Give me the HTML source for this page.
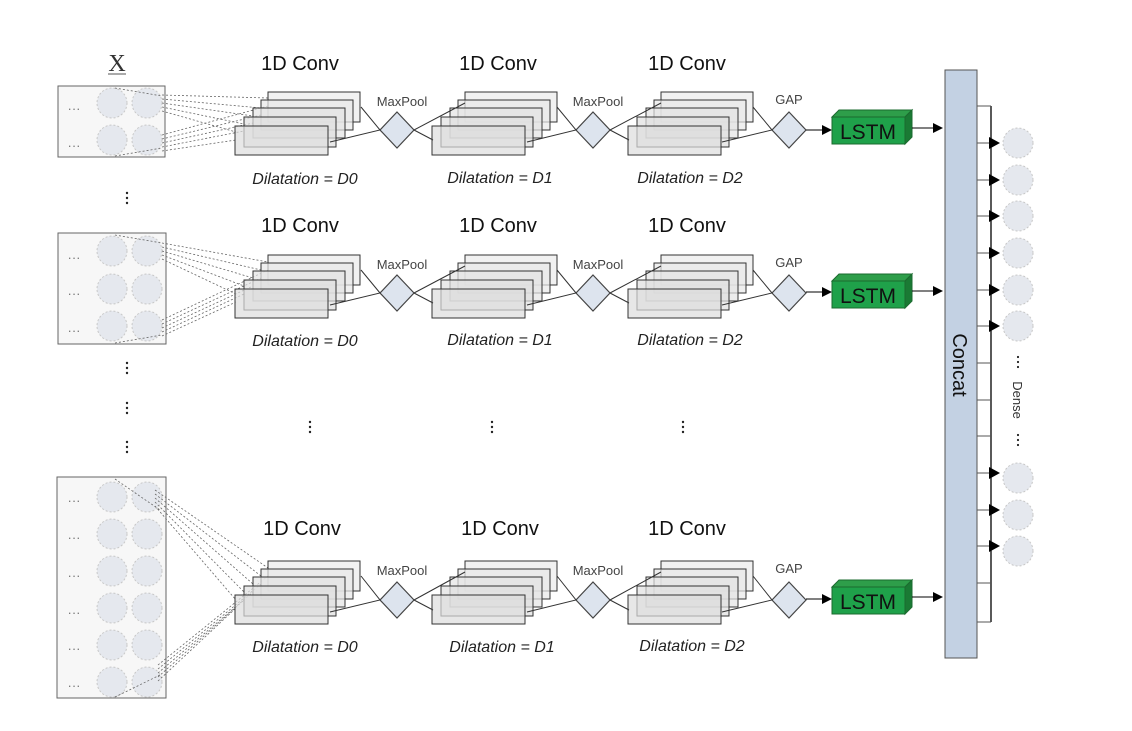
<!DOCTYPE html>
<html><head><meta charset="utf-8"><style>
html,body{margin:0;padding:0;background:#fff;}
svg{display:block;font-family:"Liberation Sans",sans-serif;}
</style></head><body>
<svg width="1132" height="731" viewBox="0 0 1132 731" xmlns="http://www.w3.org/2000/svg">
<defs>
<marker id="ah" markerWidth="10" markerHeight="10" refX="9" refY="5" orient="auto" markerUnits="userSpaceOnUse">
<path d="M0,0 L10,5 L0,10 z" fill="#000"/></marker>
<g id="stack">
<rect x="33" y="0" width="92" height="30" fill="#eee" stroke="#333" stroke-width="1" fill-opacity="0.85"/>
<rect x="26" y="8" width="92" height="30" fill="#e8e8e8" stroke="#333" stroke-width="1" fill-opacity="0.7"/>
<rect x="18" y="16" width="92" height="30" fill="#e4e4e4" stroke="#333" stroke-width="1" fill-opacity="0.7"/>
<rect x="9" y="25" width="92" height="30" fill="#e0e0e0" stroke="#333" stroke-width="1" fill-opacity="0.7"/>
<rect x="0" y="34" width="93" height="29" fill="#ddd" stroke="#333" stroke-width="1" fill-opacity="0.7"/>
</g>
<g id="dia"><path d="M0,-18 L17,0 L0,18 L-17,0 z" fill="#dde4ee" stroke="#444" stroke-width="1.2"/></g>
<g id="lstm">
<path d="M0,7 L7,0 L80,0 L73,7 z" fill="#2e9e4a" stroke="#1b6b2f"/>
<path d="M73,7 L80,0 L80,27 L73,34 z" fill="#1a7a34" stroke="#1b6b2f"/>
<rect x="0" y="7" width="73" height="27" fill="#1fa14a" stroke="#1b6b2f"/>
<text x="36" y="29" font-size="21" text-anchor="middle" fill="#111">LSTM</text>
</g>
<g id="circ"><circle r="15" fill="#e5e8ee" stroke="#c8c8c8" stroke-dasharray="2,2"/></g>
</defs>

<text x="117" y="71" font-family="Liberation Serif,serif" font-size="24" text-anchor="middle" fill="#333">X</text>
<line x1="108" y1="74" x2="126" y2="74" stroke="#555"/>

<rect x="58" y="86" width="107" height="71" fill="#f7f7f7" stroke="#666"/>
<rect x="58" y="233" width="108" height="111" fill="#f7f7f7" stroke="#666"/>
<rect x="57" y="477" width="109" height="221" fill="#f7f7f7" stroke="#666"/>
<g>
<use href="#circ" x="112" y="103"/><use href="#circ" x="147" y="103"/>
<use href="#circ" x="112" y="140"/><use href="#circ" x="147" y="140"/>
<use href="#circ" x="112" y="251"/><use href="#circ" x="147" y="251"/>
<use href="#circ" x="112" y="289"/><use href="#circ" x="147" y="289"/>
<use href="#circ" x="112" y="326"/><use href="#circ" x="147" y="326"/>
<use href="#circ" x="112" y="497"/><use href="#circ" x="147" y="497"/>
<use href="#circ" x="112" y="534"/><use href="#circ" x="147" y="534"/>
<use href="#circ" x="112" y="571"/><use href="#circ" x="147" y="571"/>
<use href="#circ" x="112" y="608"/><use href="#circ" x="147" y="608"/>
<use href="#circ" x="112" y="645"/><use href="#circ" x="147" y="645"/>
<use href="#circ" x="112" y="682"/><use href="#circ" x="147" y="682"/>
</g>
<g font-size="13" fill="#777" text-anchor="middle">
<text x="74" y="113">···</text><text x="74" y="150">···</text>
<text x="74" y="262">···</text><text x="74" y="298">···</text><text x="74" y="335">···</text>
<text x="74" y="505">···</text><text x="74" y="542">···</text><text x="74" y="580">···</text>
<text x="74" y="617">···</text><text x="74" y="653">···</text><text x="74" y="690">···</text>
</g>

<g stroke="#666" stroke-width="0.8" stroke-dasharray="2,2" fill="none">
<path d="M162,95 L268,98 M162,99 L261,108 M162,103 L253,116 M162,107 L244,124 M162,111 L236,132"/>
<path d="M162,135 L268,106 M162,139 L261,115 M162,143 L253,123 M162,147 L244,131 M162,151 L236,140"/>
<path d="M115,88 L162,96 M115,156 L162,148"/>
<path d="M162,243 L268,262 M162,247 L261,270 M162,251 L253,278 M162,255 L244,286 M162,259 L236,294"/>
<path d="M162,320 L268,270 M162,324 L261,278 M162,328 L253,286 M162,332 L244,294 M162,336 L236,302"/>
<path d="M115,235 L162,243 M115,343 L162,335"/>
<path d="M155,490 L268,568 M155,494 L261,576 M155,498 L253,584 M155,502 L244,592 M155,506 L236,600 M115,479 L160,510"/>
<path d="M158,665 L268,576 M158,669 L261,584 M158,673 L253,592 M158,677 L244,600 M158,681 L236,608 M115,697 L160,675"/>
</g>

<g>
<use href="#stack" x="235" y="92"/><use href="#stack" x="432" y="92"/><use href="#stack" x="628" y="92"/>
<use href="#dia" x="397" y="130"/><use href="#dia" x="593" y="130"/><use href="#dia" x="789" y="130"/>
<path d="M361,107 L380,130 L330,142 M414,130 L433,140 M414,130 L465,103 M557,107 L576,130 L527,142 M610,130 L629,140 M610,130 L661,103 M753,107 L772,130 L722,142" stroke="#333" fill="none"/>
<line x1="806" y1="130" x2="831" y2="130" stroke="#000" marker-end="url(#ah)"/>
<use href="#lstm" x="832" y="110"/>
<line x1="912" y1="128" x2="942" y2="128" stroke="#000" marker-end="url(#ah)"/>
</g>
<g>
<use href="#stack" x="235" y="255"/><use href="#stack" x="432" y="255"/><use href="#stack" x="628" y="255"/>
<use href="#dia" x="397" y="293"/><use href="#dia" x="593" y="293"/><use href="#dia" x="789" y="293"/>
<path d="M361,270 L380,293 L330,305 M414,293 L433,303 M414,293 L465,266 M557,270 L576,293 L527,305 M610,293 L629,303 M610,293 L661,266 M753,270 L772,293 L722,305" stroke="#333" fill="none"/>
<line x1="806" y1="292" x2="831" y2="292" stroke="#000" marker-end="url(#ah)"/>
<use href="#lstm" x="832" y="274"/>
<line x1="912" y1="291" x2="942" y2="291" stroke="#000" marker-end="url(#ah)"/>
</g>
<g>
<use href="#stack" x="235" y="561"/><use href="#stack" x="432" y="561"/><use href="#stack" x="628" y="561"/>
<use href="#dia" x="397" y="600"/><use href="#dia" x="593" y="600"/><use href="#dia" x="789" y="600"/>
<path d="M361,576 L380,600 L330,612 M414,600 L433,610 M414,600 L465,572 M557,576 L576,600 L527,612 M610,600 L629,610 M610,600 L661,572 M753,576 L772,600 L722,612" stroke="#333" fill="none"/>
<line x1="806" y1="599" x2="831" y2="599" stroke="#000" marker-end="url(#ah)"/>
<use href="#lstm" x="832" y="580"/>
<line x1="912" y1="597" x2="942" y2="597" stroke="#000" marker-end="url(#ah)"/>
</g>

<g font-size="20" text-anchor="middle" fill="#111">
<text x="300" y="70">1D Conv</text><text x="498" y="70">1D Conv</text><text x="687" y="70">1D Conv</text>
<text x="300" y="232">1D Conv</text><text x="498" y="232">1D Conv</text><text x="687" y="232">1D Conv</text>
<text x="302" y="535">1D Conv</text><text x="500" y="535">1D Conv</text><text x="687" y="535">1D Conv</text>
</g>
<g font-size="13" text-anchor="middle" fill="#444">
<text x="402" y="106">MaxPool</text><text x="598" y="106">MaxPool</text><text x="789" y="104">GAP</text>
<text x="402" y="269">MaxPool</text><text x="598" y="269">MaxPool</text><text x="789" y="267">GAP</text>
<text x="402" y="575">MaxPool</text><text x="598" y="575">MaxPool</text><text x="789" y="573">GAP</text>
</g>
<g font-size="16" font-style="italic" text-anchor="middle" fill="#222">
<text x="305" y="184">Dilatation = D0</text><text x="500" y="183">Dilatation = D1</text><text x="690" y="183">Dilatation = D2</text>
<text x="305" y="346">Dilatation = D0</text><text x="500" y="345">Dilatation = D1</text><text x="690" y="345">Dilatation = D2</text>
<text x="305" y="652">Dilatation = D0</text><text x="502" y="652">Dilatation = D1</text><text x="692" y="651">Dilatation = D2</text>
</g>

<g fill="#222">
<g transform="translate(127,198)"><circle cy="-5" r="1.2"/><circle r="1.2"/><circle cy="5" r="1.2"/></g>
<g transform="translate(127,368)"><circle cy="-5" r="1.2"/><circle r="1.2"/><circle cy="5" r="1.2"/></g>
<g transform="translate(127,408)"><circle cy="-5" r="1.2"/><circle r="1.2"/><circle cy="5" r="1.2"/></g>
<g transform="translate(127,447)"><circle cy="-5" r="1.2"/><circle r="1.2"/><circle cy="5" r="1.2"/></g>
<g transform="translate(310,427)"><circle cy="-5" r="1.2"/><circle r="1.2"/><circle cy="5" r="1.2"/></g>
<g transform="translate(492,427)"><circle cy="-5" r="1.2"/><circle r="1.2"/><circle cy="5" r="1.2"/></g>
<g transform="translate(683,427)"><circle cy="-5" r="1.2"/><circle r="1.2"/><circle cy="5" r="1.2"/></g>
</g>

<rect x="945" y="70" width="32" height="588" fill="#c3d1e3" stroke="#555"/>
<text transform="translate(953,365) rotate(90)" font-size="20" text-anchor="middle" fill="#111">Concat</text>

<g stroke="#000" stroke-width="1.3" fill="none">
<line x1="991" y1="106" x2="991" y2="622"/>
<path d="M977,106H991 M977,143H991 M977,180H991 M977,216H991 M977,253H991 M977,290H991 M977,326H991 M977,363H991 M977,400H991 M977,436H991 M977,473H991 M977,510H991 M977,546H991 M977,583H991 M977,622H991" stroke="#555" stroke-width="1"/>
</g>
<g fill="#000">
<path d="M989,137 L1000,143 L989,149z"/><path d="M989,174 L1000,180 L989,186z"/>
<path d="M989,210 L1000,216 L989,222z"/><path d="M989,247 L1000,253 L989,259z"/>
<path d="M989,284 L1000,290 L989,296z"/><path d="M989,320 L1000,326 L989,332z"/>
<path d="M989,467 L1000,473 L989,479z"/><path d="M989,504 L1000,510 L989,516z"/>
<path d="M989,540 L1000,546 L989,552z"/>
</g>
<g>
<use href="#circ" x="1018" y="143"/><use href="#circ" x="1018" y="180"/><use href="#circ" x="1018" y="216"/>
<use href="#circ" x="1018" y="253"/><use href="#circ" x="1018" y="290"/><use href="#circ" x="1018" y="326"/>
<use href="#circ" x="1018" y="478"/><use href="#circ" x="1018" y="515"/><use href="#circ" x="1018" y="551"/>
</g>
<g fill="#222">
<g transform="translate(1018,362)"><circle cy="-5" r="1.1"/><circle r="1.1"/><circle cy="5" r="1.1"/></g>
<g transform="translate(1018,440)"><circle cy="-5" r="1.1"/><circle r="1.1"/><circle cy="5" r="1.1"/></g>
</g>
<text transform="translate(1013,400) rotate(90)" font-size="13" text-anchor="middle" fill="#333">Dense</text>
</svg>
</body></html>
